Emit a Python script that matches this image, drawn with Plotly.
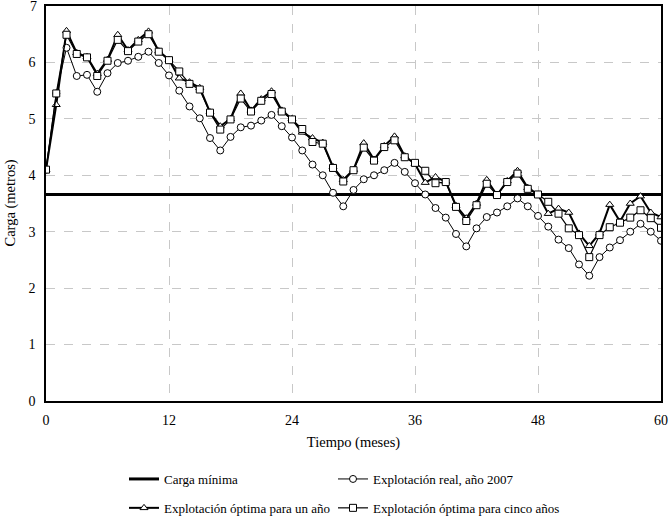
import plotly.graph_objects as go

meses = list(range(61))
carga_minima = 3.66

real_2007 = [4.1, 5.45, 6.26, 5.76, 5.78, 5.48, 5.81, 5.99, 6.03, 6.1, 6.19, 5.99, 5.77,
             5.5, 5.22, 5.01, 4.66, 4.44, 4.68, 4.85, 4.88, 4.97, 5.07, 4.87, 4.67,
             4.44, 4.19, 4.0, 3.69, 3.45, 3.74, 3.93, 4.0, 4.09, 4.22, 4.06, 3.86,
             3.66, 3.42, 3.25, 2.96, 2.74, 3.06, 3.26, 3.34, 3.45, 3.59, 3.45, 3.28,
             3.09, 2.86, 2.71, 2.42, 2.22, 2.55, 2.72, 2.85, 3.0, 3.14, 3.0, 2.84]

optima_un_ano = [4.1, 5.25, 6.56, 6.17, 6.1, 5.8, 6.05, 6.49, 6.22, 6.4, 6.55, 6.2, 6.05,
                 5.72, 5.65, 5.55, 5.12, 4.87, 5.0, 5.45, 5.15, 5.35, 5.49, 5.15, 5.0,
                 4.76, 4.66, 4.58, 4.15, 3.92, 4.1, 4.57, 4.28, 4.52, 4.69, 4.34, 4.2,
                 3.87, 3.97, 3.89, 3.46, 3.24, 3.5, 3.92, 3.65, 3.9, 4.08, 3.78, 3.66,
                 3.32, 3.41, 3.34, 2.97, 2.75, 2.97, 3.48, 3.18, 3.5, 3.63, 3.34, 3.26]

optima_cinco_anos = [4.1, 5.45, 6.49, 6.15, 6.09, 5.76, 6.03, 6.4, 6.2, 6.37, 6.5, 6.19, 6.04,
                     5.84, 5.62, 5.52, 5.11, 4.81, 4.99, 5.36, 5.13, 5.32, 5.44, 5.13, 4.99,
                     4.82, 4.59, 4.56, 4.13, 3.89, 4.09, 4.49, 4.26, 4.5, 4.62, 4.32, 4.22,
                     4.08, 3.86, 3.88, 3.44, 3.19, 3.47, 3.85, 3.65, 3.88, 4.03, 3.76, 3.66,
                     3.53, 3.32, 3.06, 2.94, 2.55, 2.94, 3.08, 3.16, 3.25, 3.38, 3.24, 3.07]

x_ticks = [0, 12, 24, 36, 48, 60]
y_ticks = [0, 1, 2, 3, 4, 5, 6, 7]

FONT = "Liberation Serif"

fig = go.Figure()

fig.add_trace(go.Scatter(
    x=[meses[0], meses[-1]], y=[carga_minima, carga_minima], mode="lines",
    name="Carga mínima", line=dict(color="black", width=3),
    legend="legend", legendgroup="a"))

fig.add_trace(go.Scatter(
    x=meses, y=optima_un_ano, mode="lines+markers",
    name="Explotación óptima para un año",
    line=dict(color="black", width=2),
    marker=dict(symbol="triangle-up", size=7, color="white",
                line=dict(color="black", width=1)),
    legend="legend", legendgroup="b"))

fig.add_trace(go.Scatter(
    x=meses, y=real_2007, mode="lines+markers",
    name="Explotación real, año 2007",
    line=dict(color="black", width=1),
    marker=dict(symbol="circle", size=7, color="white",
                line=dict(color="black", width=1)),
    legend="legend2", legendgroup="c"))

fig.add_trace(go.Scatter(
    x=meses, y=optima_cinco_anos, mode="lines+markers",
    name="Explotación óptima para cinco años",
    line=dict(color="black", width=1.2),
    marker=dict(symbol="square", size=7, color="white",
                line=dict(color="black", width=1)),
    legend="legend2", legendgroup="d"))

axis_common = dict(
    showline=True, linecolor="black", linewidth=1.5, mirror=True,
    showgrid=True, gridcolor="#c8c8c8", griddash="dash", gridwidth=1,
    zeroline=False, ticks="outside", tickcolor="rgba(0,0,0,0)",
    tickfont=dict(family=FONT, size=14, color="black"),
)

fig.update_xaxes(range=[0, 60], tickvals=x_ticks, ticklen=5,
                 title=dict(text="Tiempo (meses)", font=dict(family=FONT, size=14.5, color="black"), standoff=10),
                 **axis_common)
fig.update_yaxes(range=[0, 7], tickvals=y_ticks[:-1], ticklen=6, **axis_common)

# top tick label (plotly drops it at the very edge of the page)
fig.add_annotation(
    text=str(y_ticks[-1]), showarrow=False,
    xref="paper", yref="y", x=0, y=y_ticks[-1],
    xanchor="right", yanchor="middle", xshift=-7,
    font=dict(family=FONT, size=14, color="black"))

fig.add_annotation(
    text="Carga (metros)", textangle=-90, showarrow=False,
    xref="paper", yref="paper", x=(10 - 46) / 615, y=0.5,
    xanchor="center", yanchor="middle",
    font=dict(family=FONT, size=14.5, color="black"))

legend_common = dict(font=dict(family=FONT, size=13, color="black"),
                     bgcolor="rgba(0,0,0,0)", orientation="v",
                     tracegroupgap=9, yanchor="top", xanchor="left", itemwidth=30,
                     yref="container", xref="container")

fig.update_layout(
    width=669, height=518,
    margin=dict(l=46, r=8, t=6, b=117, autoexpand=False),
    plot_bgcolor="white", paper_bgcolor="white",
    font=dict(family=FONT, color="black"),
    legend=dict(x=124 / 669, y=(518 - 464) / 518, **legend_common),
    legend2=dict(x=333 / 669, y=(518 - 464) / 518, **legend_common),
)

fig.write_html("out.html",
               config={"displayModeBar": False},
               post_script="document.body.style.margin='0';document.body.style.overflow='hidden';")
